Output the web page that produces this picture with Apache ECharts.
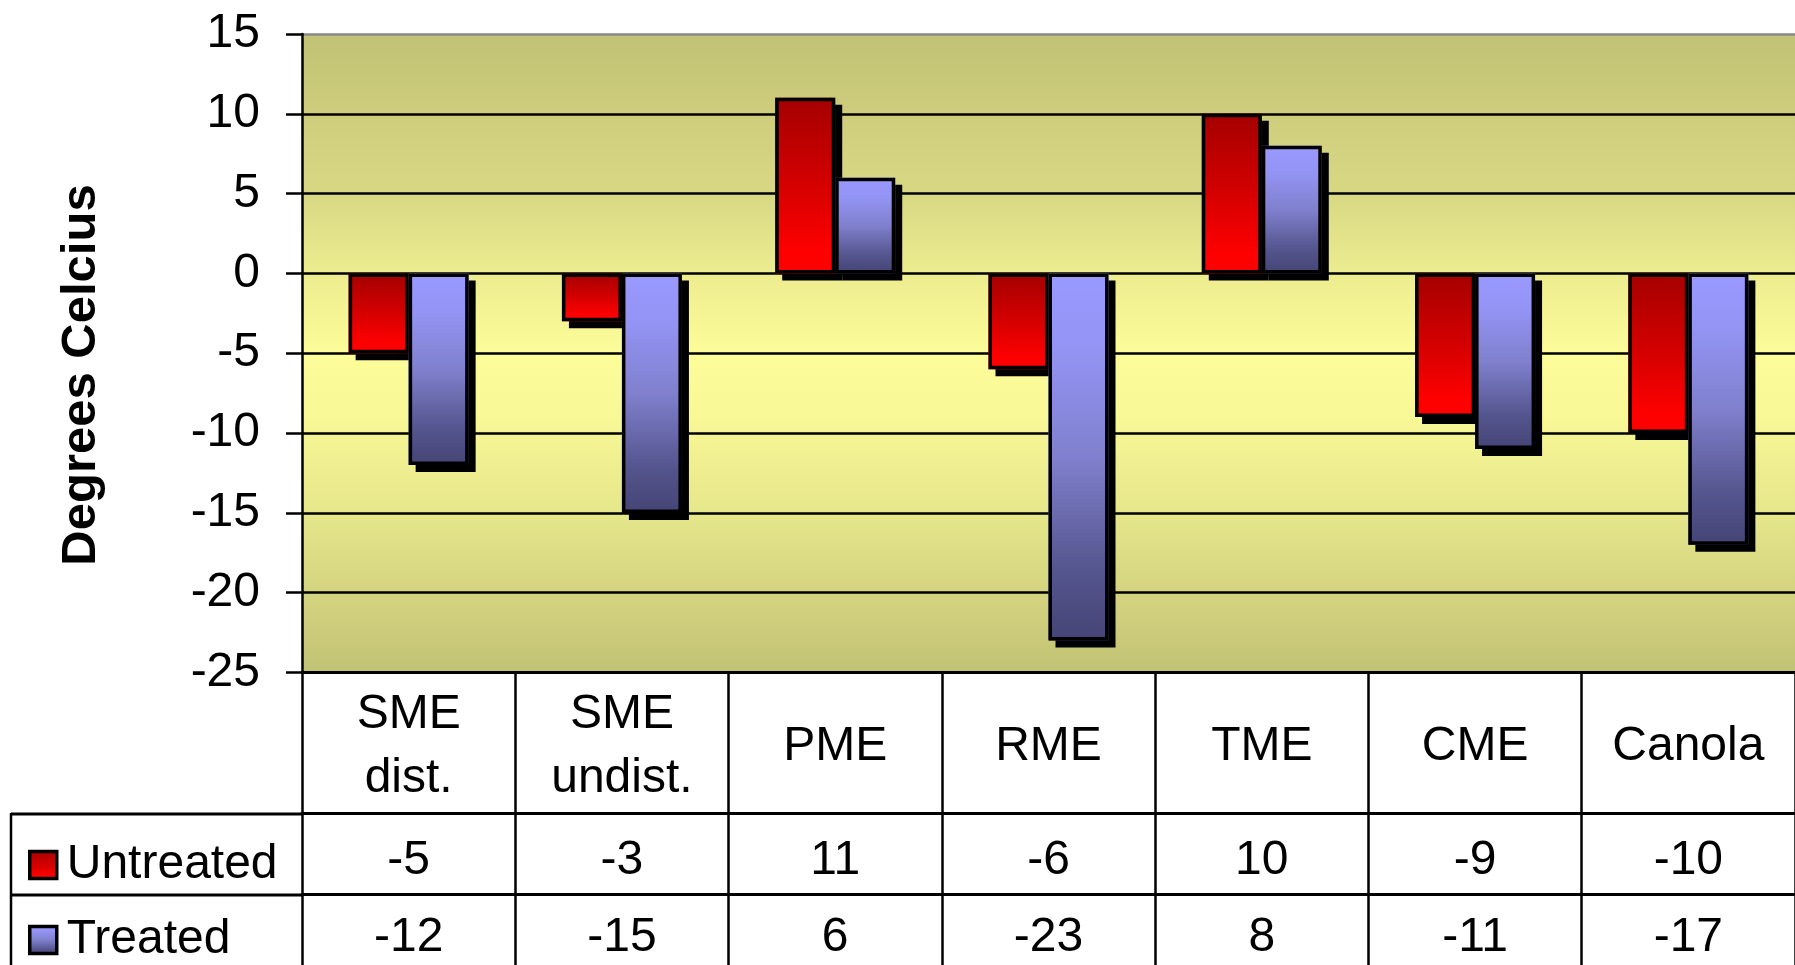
<!DOCTYPE html>
<html>
<head>
<meta charset="utf-8">
<script src="https://cdn.jsdelivr.net/npm/echarts@6/dist/echarts.min.js"></script>
<style>
  html, body { margin: 0; padding: 0; background: #fff; }
  #chart { width: 1795px; height: 965px; }
</style>
</head>
<body>
<div id="chart"></div>
<script>
// Pour point data, untreated vs treated fuels
const categories = ['SME\ndist.', 'SME\nundist.', 'PME', 'RME', 'TME', 'CME', 'Canola'];
const seriesNames = ['Untreated', 'Treated'];
const untreated = [-5, -3, 11, -6, 10, -9, -10];
const treated = [-12, -15, 6, -23, 8, -11, -17];
const yMin = -25;
const yMax = 15;
const yStep = 5;
const axisTitle = 'Degrees Celcius';

const FONT = '"Liberation Sans", Arial, Helvetica, sans-serif';
const TXT = 48;
const BAR_W = 60;

const redFill = {
  type: 'linear', x: 0, y: 0, x2: 0, y2: 1,
  colorStops: [
    { offset: 0, color: '#A50000' },
    { offset: 0.5, color: '#D50000' },
    { offset: 0.88, color: '#FF0000' },
    { offset: 1, color: '#FF0000' }
  ]
};
const blueFill = {
  type: 'linear', x: 0, y: 0, x2: 0, y2: 1,
  colorStops: [
    { offset: 0, color: '#9999FF' },
    { offset: 0.2, color: '#9494F5' },
    { offset: 0.5, color: '#8080CE' },
    { offset: 0.8, color: '#565690' },
    { offset: 1, color: '#444475' }
  ]
};
const plotFill = {
  type: 'linear', x: 0, y: 0, x2: 0, y2: 1,
  colorStops: [
    { offset: 0, color: '#C2C275' },
    { offset: 0.25, color: '#D8D884' },
    { offset: 0.4, color: '#F0F092' },
    { offset: 0.5, color: '#FCFC99' },
    { offset: 0.6, color: '#F8F897' },
    { offset: 0.75, color: '#E6E68B' },
    { offset: 1, color: '#C2C275' }
  ]
};

// filled bars carry the hard drop shadow; outlines are drawn on top without shadow
const fillStyle = (fill) => ({
  color: fill,
  borderWidth: 0,
  shadowColor: '#000',
  shadowBlur: 0,
  shadowOffsetX: 7,
  shadowOffsetY: 7
});
const outlineStyle = {
  color: 'rgba(0,0,0,0)',
  borderColor: '#000',
  borderWidth: 3.5
};

const gridLineColors = [];
for (let v = yMin; v <= yMax; v += yStep) gridLineColors.push(v === yMax ? '#888888' : '#000000');

// data table rows under the plot, drawn as stacked category axes
function tableAxis(offset, rowHeight, margin, formatter, extraLabel) {
  return {
    type: 'category',
    data: categories,
    position: 'bottom',
    offset: offset,
    axisLine: { show: true, onZero: false, lineStyle: { color: '#000', width: 3 } },
    axisTick: { show: true, interval: 0, length: rowHeight, lineStyle: { color: '#000', width: 2.5 } },
    axisLabel: Object.assign({
      interval: 0,
      margin: margin,
      verticalAlign: 'middle',
      fontSize: TXT,
      fontFamily: FONT,
      color: '#000',
      formatter: formatter
    }, extraLabel || {}),
    splitLine: { show: false }
  };
}

const legendBase = (name, top) => ({
  data: [name],
  left: 28,
  top: top,
  orient: 'vertical',
  padding: 0,
  icon: 'rect',
  itemWidth: 27,
  itemHeight: 27,
  selectedMode: false,
  textStyle: { fontSize: TXT, fontFamily: FONT, color: '#000', lineHeight: 27, padding: [0, 0, 0, 5] },
  itemStyle: { borderColor: '#000', borderWidth: 3.5, shadowColor: 'rgba(0,0,0,0)', shadowBlur: 0, shadowOffsetX: 0, shadowOffsetY: 0 }
});

const chart = echarts.init(document.getElementById('chart'), null, { renderer: 'canvas' });
chart.setOption({
  animation: false,
  backgroundColor: '#ffffff',
  grid: {
    left: 302, top: 34, width: 1497, height: 638.5,
    show: true, backgroundColor: plotFill, borderWidth: 0
  },
  legend: [legendBase(seriesNames[0], 841), legendBase(seriesNames[1], 916)],
  xAxis: [
    tableAxis(0, 141, 74, (v) => v, { lineHeight: 64 }),
    tableAxis(141, 81, 47, (v, i) => String(untreated[i])),
    tableAxis(222, 90, 43, (v, i) => String(treated[i])),
    { type: 'category', data: categories, show: false }
  ],
  yAxis: {
    type: 'value',
    min: yMin, max: yMax, interval: yStep,
    axisLine: { show: true, lineStyle: { color: '#000', width: 2.5 } },
    axisTick: { show: true, length: 16, lineStyle: { color: '#000', width: 2.5 } },
    axisLabel: { margin: 42, fontSize: TXT, fontFamily: FONT, color: '#000' },
    splitLine: { show: true, lineStyle: { color: gridLineColors, width: 2.5 } }
  },
  graphic: [
    {
      type: 'text', x: 81, y: 375, rotation: Math.PI / 2,
      style: { text: axisTitle, fontSize: 49, fontWeight: 'bold', fontFamily: FONT, fill: '#000', align: 'center', verticalAlign: 'middle' }
    },
    { type: 'line', shape: { x1: 11, y1: 814, x2: 302, y2: 814 }, style: { stroke: '#000', lineWidth: 3 } },
    { type: 'line', shape: { x1: 11, y1: 895, x2: 302, y2: 895 }, style: { stroke: '#000', lineWidth: 3 } },
    { type: 'line', shape: { x1: 11, y1: 813, x2: 11, y2: 965 }, style: { stroke: '#000', lineWidth: 2.5 } }
  ],
  series: [
    {
      name: seriesNames[0], type: 'bar', xAxisIndex: 0, data: untreated,
      barWidth: BAR_W, barGap: '0%', itemStyle: fillStyle(redFill),
      emphasis: { disabled: true }
    },
    {
      name: seriesNames[1], type: 'bar', xAxisIndex: 0, data: treated,
      barWidth: BAR_W, barGap: '0%', itemStyle: fillStyle(blueFill),
      emphasis: { disabled: true }
    },
    {
      name: seriesNames[0] + ' outline', type: 'bar', xAxisIndex: 3, data: untreated,
      barWidth: BAR_W, barGap: '0%', itemStyle: outlineStyle, silent: true,
      emphasis: { disabled: true }
    },
    {
      name: seriesNames[1] + ' outline', type: 'bar', xAxisIndex: 3, data: treated,
      barWidth: BAR_W, barGap: '0%', itemStyle: outlineStyle, silent: true,
      emphasis: { disabled: true }
    }
  ]
});
</script>
</body>
</html>
